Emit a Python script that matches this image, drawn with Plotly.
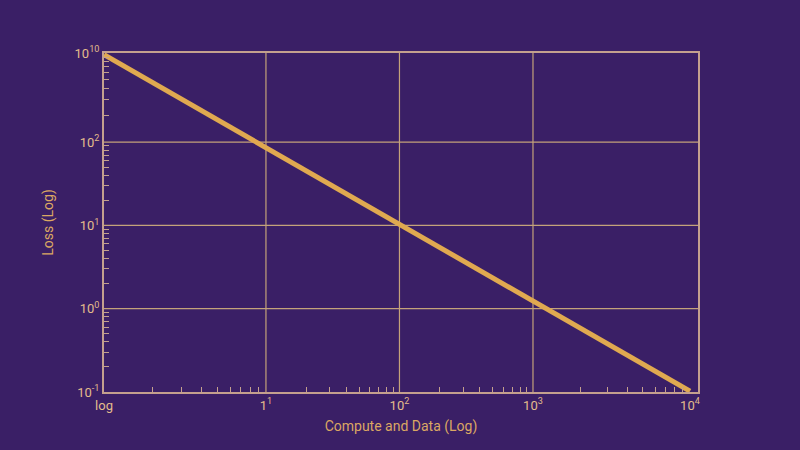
import numpy as np
import plotly.graph_objects as go

# Axis layout (positions in axis units; each decade ~1 unit)
x_tick_pos = [-0.213, 1, 2, 3, 4.176]
x_tick_text = ["log", "1<sup>1</sup>", "10<sup>2</sup>", "10<sup>3</sup>", "10<sup>4</sup>"]
y_tick_pos = [-1, 0, 1, 2, 3.07]
y_tick_text = ["10<sup>-1</sup>", "10<sup>0</sup>", "10<sup>1</sup>", "10<sup>2</sup>", "10<sup>10</sup>"]
x_grid = [1, 2, 3]
y_grid = [0, 1, 2]

# Data: loss line endpoints
x_vals = [-0.213, 4.176]
y_vals = [3.05, -0.99]

x_range = [-0.213, 4.236]
y_range = [-1, 3.07]

def minor_ticks(majors):
    out = []
    for a, b in zip(majors[:-1], majors[1:]):
        for k in range(2, 10):
            out.append(a + np.log10(k) * (b - a))
    return out

BG = "#3a1f66"
GRID = "#c4a27a"
AXIS = "#c4a08e"
TEXT = "#e3bc8c"
TITLE = "#dba763"

fig = go.Figure()
fig.add_trace(go.Scatter(x=x_vals, y=y_vals, mode="lines",
                         line=dict(color="#e0a950", width=5), hoverinfo="skip"))

shapes = []
for gx in x_grid:
    shapes.append(dict(type="line", xref="x", yref="paper", x0=gx, x1=gx, y0=0, y1=1,
                       line=dict(color=GRID, width=1.2), layer="below"))
for gy in y_grid:
    shapes.append(dict(type="line", xref="paper", yref="y", x0=0, x1=1, y0=gy, y1=gy,
                       line=dict(color=GRID, width=1.2), layer="below"))

fig.update_layout(
    width=800, height=450,
    paper_bgcolor=BG, plot_bgcolor=BG,
    margin=dict(l=104, r=102, t=53, b=58),
    showlegend=False,
    shapes=shapes,
    font=dict(family="Roboto", color=TEXT, size=13),
    xaxis=dict(
        range=x_range, showgrid=False, zeroline=False,
        tickmode="array", tickvals=x_tick_pos, ticktext=x_tick_text,
        ticks="", showline=True, linecolor=AXIS, linewidth=2, mirror=True,
        tickfont=dict(size=13, color=TEXT),
        title=dict(text="Compute and Data (Log)", font=dict(size=14, color=TITLE), standoff=10),
        minor=dict(tickmode="array", tickvals=minor_ticks(x_tick_pos), ticks="inside",
                   ticklen=5, tickcolor=AXIS, tickwidth=1, showgrid=False),
    ),
    yaxis=dict(
        range=y_range, showgrid=False, zeroline=False,
        tickmode="array", tickvals=y_tick_pos, ticktext=y_tick_text,
        ticks="", showline=True, linecolor=AXIS, linewidth=2, mirror=True,
        tickfont=dict(size=13, color=TEXT),
        title=dict(text="Loss (Log)", font=dict(size=14, color=TITLE), standoff=18),
        minor=dict(tickmode="array", tickvals=minor_ticks(y_tick_pos), ticks="inside",
                   ticklen=5, tickcolor=AXIS, tickwidth=1, showgrid=False),
    ),
)

fig.write_html("out.html")
